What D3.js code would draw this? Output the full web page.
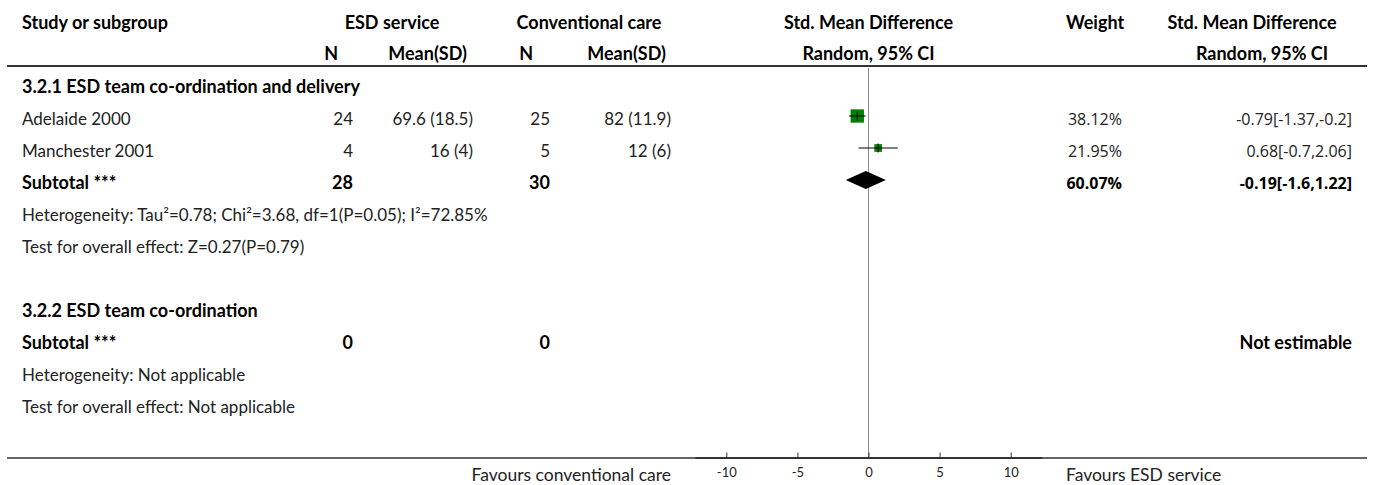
<!DOCTYPE html>
<html>
<head>
<meta charset="utf-8">
<script src="https://cdn.jsdelivr.net/npm/d3@7"></script>
<style>
  html, body { margin: 0; padding: 0; background: #fff; }
  svg { display: block; }
  text { font-family: Lato, "Noto Sans", sans-serif; fill: #222; }
  .b { font-weight: bold; fill: #000; }
  .num { font-family: "Open Sans", "Noto Sans", sans-serif; }
</style>
</head>
<body>
<svg id="chart" width="1375" height="485"></svg>
<script>
// Forest plot: Std. Mean Difference, random effects, 95% CI

// Studies in subgroup 3.2.1
const studies      = ["Adelaide 2000", "Manchester 2001"];
const esdN         = [24, 4];
const esdMeanSD    = ["69.6 (18.5)", "16 (4)"];
const convN        = [25, 5];
const convMeanSD   = ["82 (11.9)", "12 (6)"];
const smd          = [-0.79, 0.68];
const ciLower      = [-1.37, -0.7];
const ciUpper      = [-0.2, 2.06];
const weights      = [38.12, 21.95];

// Subgroup 3.2.1 pooled result
const subtotalN      = [28, 30];
const subtotalWeight = 60.07;
const subtotalSmd    = -0.19;
const subtotalCI     = [-1.6, 1.22];
const heterogeneity1 = "Heterogeneity: Tau²=0.78; Chi²=3.68, df=1(P=0.05); I²=72.85%";
const overall1       = "Test for overall effect: Z=0.27(P=0.79)";

// Subgroup 3.2.2 (no studies)
const subtotalN2     = [0, 0];
const heterogeneity2 = "Heterogeneity: Not applicable";
const overall2       = "Test for overall effect: Not applicable";

const groupTitles = ["3.2.1 ESD team co-ordination and delivery", "3.2.2 ESD team co-ordination"];
const axisTicks   = [-10, -5, 0, 5, 10];
const axisDomain  = [-12.2, 12.2];
const favourLeft  = "Favours conventional care";
const favourRight = "Favours ESD service";

const svg = d3.select("#chart");

const REG = 17, BOLD = 18, NUM = 16;

// column anchors
const col = {
  study: 22, esdN: 353, esdMean: 473, convN: 550, convMean: 671,
  weight: 1122, ci: 1352
};

const x = d3.scaleLinear().domain(axisDomain).range([695, 1042]);
const rowBase = d3.scaleLinear().domain([0, 1]).range([93, 125]); // text baseline by row index
const markY = i => rowBase(i) - 9;
const boxSize = d3.scaleLinear().domain([0, 100]).range([0, 35]);

function txt(xp, yp, s, opts = {}) {
  const cls = opts.cls || "";
  const size = opts.size || (cls.includes("num") ? NUM : cls.includes("b") ? BOLD : REG);
  const t = svg.append("text")
    .attr("x", xp).attr("y", yp)
    .attr("text-anchor", opts.anchor || "start")
    .style("font-size", size + "px")
    .text(s);
  if (cls) t.attr("class", cls);
  return t;
}

// header
txt(col.study, 29, "Study or subgroup", { cls: "b" });
txt(392, 29, "ESD service", { cls: "b", anchor: "middle" });
txt(589, 29, "Conventional care", { cls: "b", anchor: "middle" });
txt(x(0), 29, "Std. Mean Difference", { cls: "b", anchor: "middle" });
txt(1095, 29, "Weight", { cls: "b", anchor: "middle" });
txt(1252, 29, "Std. Mean Difference", { cls: "b", anchor: "middle" });

txt(338, 60, "N", { cls: "b", anchor: "end" });
txt(467, 60, "Mean(SD)", { cls: "b", anchor: "end" });
txt(533, 60, "N", { cls: "b", anchor: "end" });
txt(666, 60, "Mean(SD)", { cls: "b", anchor: "end" });
txt(x(0), 60, "Random, 95% CI", { cls: "b", anchor: "middle" });
txt(1262, 60, "Random, 95% CI", { cls: "b", anchor: "middle" });

svg.append("line").attr("x1", 7).attr("x2", 1367).attr("y1", 66).attr("y2", 66)
  .attr("stroke", "#333").attr("stroke-width", 2);

// zero line
svg.append("line").attr("x1", x(0)).attr("x2", x(0)).attr("y1", 68).attr("y2", 457)
  .attr("stroke", "#8a8a8a").attr("stroke-width", 1);

// subgroup 3.2.1
txt(col.study, rowBase(0), groupTitles[0], { cls: "b" });

studies.forEach((s, i) => {
  const r = i + 1;
  txt(col.study, rowBase(r), s);
  txt(col.esdN, rowBase(r), esdN[i], { anchor: "end" });
  txt(col.esdMean, rowBase(r), esdMeanSD[i], { anchor: "end" });
  txt(col.convN, rowBase(r), convN[i], { anchor: "end" });
  txt(col.convMean, rowBase(r), convMeanSD[i], { anchor: "end" });
  txt(col.weight, rowBase(r), weights[i].toFixed(2) + "%", { anchor: "end", cls: "num" });
  txt(col.ci, rowBase(r), `${smd[i]}[${ciLower[i]},${ciUpper[i]}]`, { anchor: "end", cls: "num" });

  const cy = markY(r);
  const sz = boxSize(weights[i]);
  svg.append("rect")
    .attr("x", x(smd[i]) - sz / 2).attr("y", cy - sz / 2)
    .attr("width", sz).attr("height", sz)
    .attr("fill", "#008000");
  svg.append("line")
    .attr("x1", x(ciLower[i])).attr("x2", x(ciUpper[i]))
    .attr("y1", cy).attr("y2", cy)
    .attr("stroke", "#000").attr("stroke-width", 1);
  svg.append("line")
    .attr("x1", x(smd[i])).attr("x2", x(smd[i]))
    .attr("y1", cy - 4.5).attr("y2", cy + 4.5)
    .attr("stroke", "#000").attr("stroke-width", 1);
});

// subtotal 3.2.1
txt(col.study, rowBase(3), "Subtotal ***", { cls: "b" });
txt(col.esdN, rowBase(3), subtotalN[0], { cls: "b", anchor: "end" });
txt(col.convN, rowBase(3), subtotalN[1], { cls: "b", anchor: "end" });
txt(col.weight, rowBase(3), subtotalWeight.toFixed(2) + "%", { cls: "b num", anchor: "end" });
txt(col.ci, rowBase(3), `${subtotalSmd}[${subtotalCI[0]},${subtotalCI[1]}]`, { cls: "b num", anchor: "end" });
{
  const cy = markY(3);
  const h = 9;
  svg.append("path")
    .attr("d", d3.line()([
      [x(subtotalCI[0]), cy], [x(subtotalSmd), cy - h],
      [x(subtotalCI[1]), cy], [x(subtotalSmd), cy + h]
    ]) + "Z")
    .attr("fill", "#000");
}
txt(col.study, rowBase(4), heterogeneity1);
txt(col.study, rowBase(5), overall1);

// subgroup 3.2.2
txt(col.study, rowBase(7), groupTitles[1], { cls: "b" });
txt(col.study, rowBase(8), "Subtotal ***", { cls: "b" });
txt(col.esdN, rowBase(8), subtotalN2[0], { cls: "b", anchor: "end" });
txt(col.convN, rowBase(8), subtotalN2[1], { cls: "b", anchor: "end" });
txt(col.ci, rowBase(8), "Not estimable", { cls: "b", anchor: "end" });
txt(col.study, rowBase(9), heterogeneity2);
txt(col.study, rowBase(10), overall2);

// bottom rule and axis
svg.append("line").attr("x1", 7).attr("x2", 1367).attr("y1", 458).attr("y2", 458)
  .attr("stroke", "#333").attr("stroke-width", 1.5);

const axis = d3.axisTop(x).tickValues(axisTicks).tickSize(5).tickSizeOuter(0).tickFormat(d3.format("d"));
const ag = svg.append("g").attr("transform", "translate(0,457.5)").call(axis);
ag.select(".domain").attr("stroke", "#333").attr("stroke-width", 2);
ag.selectAll(".tick line").attr("stroke", "#333");
ag.selectAll(".tick text").remove();
ag.selectAll(".tick").append("text")
  .attr("y", 19.5)
  .attr("text-anchor", "middle")
  .style("font-size", "13px")
  .text(d => d);

txt(671, 481, favourLeft, { anchor: "end", size: 17.5 });
txt(1066, 481, favourRight, { size: 17.5 });
</script>
</body>
</html>
